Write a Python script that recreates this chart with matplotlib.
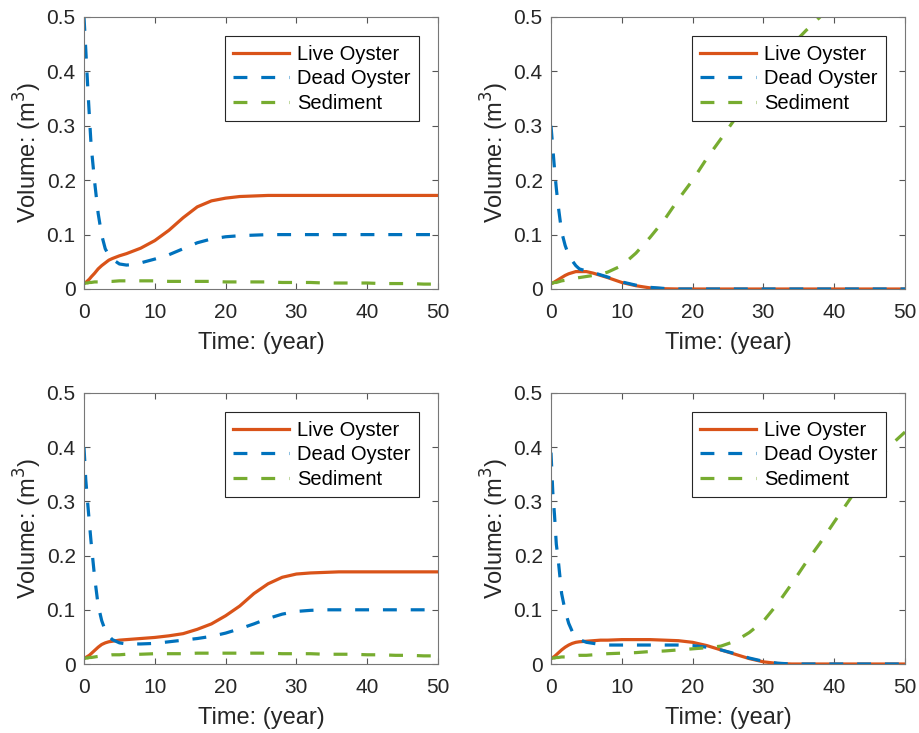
import matplotlib
matplotlib.use("Agg")
import matplotlib.pyplot as plt
import numpy as np

plt.rcParams['font.family'] = ['Liberation Sans', 'DejaVu Sans']
plt.rcParams['lines.scale_dashes'] = False

# time axis shared by all four runs (years)
t = [0, 0.25, 0.5, 0.75, 1, 1.5, 2, 2.5, 3, 3.5, 4, 5, 6, 7, 8, 10, 12, 14, 16, 18,
     20, 22, 24, 26, 28, 30, 32, 34, 36, 38, 40, 42, 44, 46, 48, 50]

# top left run
live_a = [0.010, 0.012, 0.015, 0.018, 0.022, 0.029, 0.037, 0.043, 0.048, 0.053, 0.056, 0.061,
          0.065, 0.070, 0.075, 0.089, 0.108, 0.131, 0.151, 0.162, 0.167, 0.170, 0.171, 0.172,
          0.172, 0.172, 0.172, 0.172, 0.172, 0.172, 0.172, 0.172, 0.172, 0.172, 0.172, 0.172]
dead_a = [0.500, 0.440, 0.378, 0.320, 0.265, 0.197, 0.139, 0.099, 0.074, 0.062, 0.055, 0.046,
          0.044, 0.045, 0.048, 0.055, 0.063, 0.074, 0.085, 0.092, 0.096, 0.098, 0.099, 0.100,
          0.100, 0.100, 0.100, 0.100, 0.100, 0.100, 0.100, 0.100, 0.100, 0.100, 0.100, 0.100]
sed_a = [0.010, 0.011, 0.011, 0.012, 0.012, 0.013, 0.013, 0.014, 0.014, 0.014, 0.014, 0.015,
         0.015, 0.015, 0.015, 0.015, 0.014, 0.014, 0.014, 0.014, 0.013, 0.013, 0.013, 0.013,
         0.012, 0.012, 0.012, 0.011, 0.011, 0.011, 0.011, 0.010, 0.010, 0.010, 0.009, 0.009]

# top right run
live_b = [0.010, 0.011, 0.013, 0.015, 0.017, 0.021, 0.025, 0.028, 0.030, 0.032, 0.032, 0.032,
          0.029, 0.025, 0.021, 0.012, 0.006, 0.002, 0.0005, 0, 0, 0, 0, 0,
          0, 0, 0, 0, 0, 0, 0, 0, 0, 0, 0, 0]
dead_b = [0.300, 0.260, 0.220, 0.185, 0.155, 0.105, 0.080, 0.062, 0.052, 0.043, 0.037, 0.033,
          0.030, 0.026, 0.022, 0.013, 0.007, 0.003, 0.001, 0, 0, 0, 0, 0,
          0, 0, 0, 0, 0, 0, 0, 0, 0, 0, 0, 0]
sed_b = [0.010, 0.011, 0.012, 0.012, 0.013, 0.015, 0.016, 0.018, 0.019, 0.020, 0.021, 0.023,
         0.025, 0.027, 0.031, 0.043, 0.066, 0.095, 0.127, 0.165, 0.200, 0.240, 0.276, 0.313,
         0.350, 0.385, 0.415, 0.448, 0.475, 0.500, 0.525, 0.550, 0.575, 0.600, 0.625, 0.650]

# bottom left run
live_c = [0.010, 0.012, 0.014, 0.016, 0.019, 0.025, 0.031, 0.036, 0.039, 0.041, 0.042, 0.044,
          0.045, 0.046, 0.047, 0.049, 0.052, 0.056, 0.064, 0.074, 0.089, 0.107, 0.130, 0.148,
          0.160, 0.166, 0.168, 0.169, 0.170, 0.170, 0.170, 0.170, 0.170, 0.170, 0.170, 0.170]
dead_c = [0.400, 0.340, 0.300, 0.262, 0.225, 0.160, 0.108, 0.080, 0.062, 0.052, 0.045, 0.039,
          0.037, 0.037, 0.037, 0.038, 0.041, 0.044, 0.047, 0.051, 0.057, 0.065, 0.074, 0.084,
          0.092, 0.097, 0.099, 0.100, 0.100, 0.100, 0.100, 0.100, 0.100, 0.100, 0.100, 0.100]
sed_c = [0.010, 0.011, 0.011, 0.012, 0.012, 0.013, 0.014, 0.015, 0.016, 0.016, 0.017, 0.017,
         0.018, 0.018, 0.018, 0.019, 0.019, 0.019, 0.020, 0.020, 0.020, 0.020, 0.020, 0.020,
         0.019, 0.019, 0.019, 0.018, 0.018, 0.018, 0.017, 0.017, 0.016, 0.016, 0.015, 0.015]

# bottom right run
live_d = [0.010, 0.012, 0.014, 0.017, 0.020, 0.026, 0.031, 0.035, 0.038, 0.040, 0.041, 0.042,
          0.043, 0.044, 0.044, 0.045, 0.045, 0.045, 0.044, 0.043, 0.040, 0.034, 0.026, 0.018,
          0.010, 0.004, 0.001, 0, 0, 0, 0, 0, 0, 0, 0, 0]
dead_d = [0.390, 0.318, 0.274, 0.221, 0.195, 0.130, 0.098, 0.075, 0.060, 0.052, 0.045, 0.040,
          0.038, 0.036, 0.035, 0.035, 0.035, 0.035, 0.035, 0.035, 0.034, 0.031, 0.026, 0.019,
          0.011, 0.005, 0.0015, 0, 0, 0, 0, 0, 0, 0, 0, 0]
sed_d = [0.010, 0.011, 0.011, 0.012, 0.012, 0.013, 0.013, 0.014, 0.015, 0.015, 0.016, 0.016,
         0.017, 0.018, 0.019, 0.020, 0.021, 0.023, 0.024, 0.026, 0.028, 0.030, 0.033, 0.042,
         0.058, 0.079, 0.111, 0.148, 0.187, 0.223, 0.262, 0.300, 0.338, 0.373, 0.404, 0.428]

runs = [(live_a, dead_a, sed_a), (live_b, dead_b, sed_b),
        (live_c, dead_c, sed_c), (live_d, dead_d, sed_d)]
labels = ["Live Oyster", "Dead Oyster", "Sediment"]
colors = ["#D95319", "#0072BD", "#77AC30"]

fig = plt.figure(figsize=(9.19, 7.33), dpi=100)
W, H = 919, 733
boxes = [(84, 438, 17, 289), (551, 905, 17, 289),
         (84, 438, 393, 664), (551, 905, 393, 664)]  # left, right, top, bottom in px

for (l, r, top, bot), (live, dead, sed) in zip(boxes, runs):
    ax = fig.add_axes([l / W, 1 - bot / H, (r - l) / W, (bot - top) / H])
    ax.plot(t, live, color=colors[0], lw=2.3, label=labels[0])
    ax.plot(t, dead, color=colors[1], lw=2.3, dashes=(10, 10), label=labels[1])
    ax.plot(t, sed, color=colors[2], lw=2.3, dashes=(10, 10), label=labels[2])
    ax.set_xlim(0, 50)
    ax.set_ylim(0, 0.5)
    ax.set_xticks([0, 10, 20, 30, 40, 50])
    ax.set_yticks([0, 0.1, 0.2, 0.3, 0.4, 0.5])
    ax.set_yticklabels(["0", "0.1", "0.2", "0.3", "0.4", "0.5"])
    ax.tick_params(direction="in", top=True, right=True, length=4, width=0.8,
                   labelsize=15, labelcolor="#262626", color="#555555", pad=6)
    ax.tick_params(axis="x", pad=10)
    for s in ax.spines.values():
        s.set_color("#777777")
        s.set_linewidth(0.8)
    ax.set_xlabel("Time: (year)", fontsize=17, color="#262626", labelpad=7)
    ax.set_ylabel("Volume: (m$^3$)", fontsize=17, color="#262626", labelpad=2)
    leg = ax.legend(loc="upper right", fontsize=14.5, fancybox=False, framealpha=1,
                    edgecolor="#262626", handlelength=2.75, handletextpad=0.4,
                    borderaxespad=0.95, labelspacing=0.28, borderpad=0.42)
    leg.get_frame().set_linewidth(0.8)

fig.savefig("out.png", dpi=100)
